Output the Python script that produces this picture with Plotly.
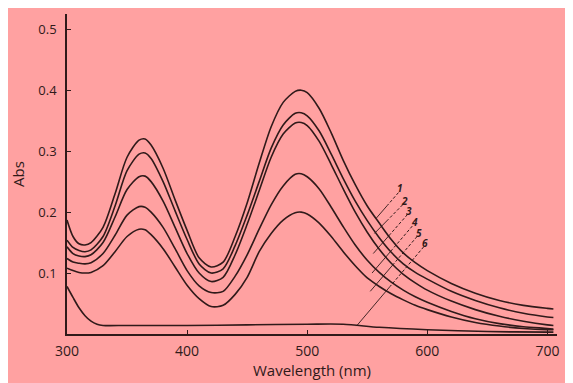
import plotly.graph_objects as go

# ---- data ----
wl = [300, 305, 310, 315, 320, 330, 340, 350, 360, 365, 370, 380, 390, 400, 410, 420, 430, 440,
      450, 460, 470, 480, 490, 495, 500, 510, 520, 530, 540, 550, 560, 570, 580, 590, 600,
      620, 640, 660, 680, 700, 705]

abs1 = [0.187, 0.160, 0.148, 0.146, 0.150, 0.175, 0.230, 0.290, 0.318, 0.320, 0.310, 0.272, 0.220,
        0.170, 0.125, 0.110, 0.118, 0.160, 0.215, 0.280, 0.340, 0.380, 0.398, 0.400, 0.396, 0.370,
        0.330, 0.285, 0.245, 0.210, 0.182, 0.155, 0.133, 0.117, 0.104, 0.083, 0.067, 0.055, 0.047,
        0.042, 0.041]
abs2 = [0.154, 0.142, 0.137, 0.135, 0.138, 0.160, 0.210, 0.268, 0.295, 0.297, 0.288, 0.250, 0.202,
        0.155, 0.115, 0.100, 0.107, 0.145, 0.195, 0.250, 0.305, 0.343, 0.362, 0.363, 0.358, 0.333,
        0.295, 0.255, 0.218, 0.186, 0.158, 0.134, 0.115, 0.101, 0.090, 0.070, 0.055, 0.043, 0.034,
        0.028, 0.027]
abs3 = [0.143, 0.132, 0.128, 0.127, 0.130, 0.150, 0.192, 0.237, 0.258, 0.259, 0.250, 0.218, 0.175,
        0.132, 0.100, 0.086, 0.093, 0.130, 0.180, 0.235, 0.290, 0.328, 0.346, 0.347, 0.342, 0.316,
        0.278, 0.238, 0.200, 0.167, 0.139, 0.116, 0.098, 0.084, 0.072, 0.054, 0.040, 0.029, 0.021,
        0.015, 0.014]
abs4 = [0.124, 0.118, 0.116, 0.115, 0.117, 0.132, 0.162, 0.195, 0.209, 0.208, 0.200, 0.175, 0.140,
        0.104, 0.079, 0.068, 0.070, 0.095, 0.130, 0.172, 0.212, 0.243, 0.262, 0.263, 0.258, 0.238,
        0.208, 0.176, 0.146, 0.121, 0.101, 0.085, 0.072, 0.061, 0.052, 0.037, 0.025, 0.017, 0.012,
        0.009, 0.008]
abs5 = [0.108, 0.104, 0.101, 0.100, 0.101, 0.112, 0.135, 0.160, 0.172, 0.171, 0.163, 0.140, 0.110,
        0.080, 0.058, 0.045, 0.047, 0.065, 0.093, 0.135, 0.165, 0.187, 0.199, 0.200, 0.197, 0.182,
        0.160, 0.135, 0.112, 0.092, 0.078, 0.066, 0.056, 0.047, 0.040, 0.028, 0.019, 0.013, 0.009,
        0.007, 0.007]

wl6 = [300, 305, 310, 315, 320, 325, 330, 350, 400, 450, 500, 530, 560, 600, 650, 700, 705]
abs6 = [0.078, 0.060, 0.043, 0.030, 0.021, 0.016, 0.014, 0.014, 0.014, 0.015, 0.016, 0.016, 0.011,
        0.007, 0.004, 0.003, 0.003]

series_x = [wl, wl, wl, wl, wl, wl6]
series_y = [abs1, abs2, abs3, abs4, abs5, abs6]

curve_labels = ["1", "2", "3", "4", "5", "6"]
label_x = [577.5, 581.0, 585.0, 589.0, 593.0, 598.5]
label_y = [0.240, 0.219, 0.203, 0.184, 0.167, 0.150]
leader_top_x = [576.0, 579.5, 583.5, 587.5, 591.5, 597.0]
leader_top_y = [0.232, 0.212, 0.196, 0.177, 0.160, 0.143]
leader_end_x = [557.5, 556.0, 555.0, 554.0, 552.5, 541.0]
leader_end_y = [0.190, 0.165, 0.132, 0.100, 0.070, 0.013]

x_ticks = [300, 400, 500, 600, 700]
y_ticks = [0.1, 0.2, 0.3, 0.4, 0.5]

# ---- style ----
PINK = "rgb(255,161,161)"
INK = "rgb(48,26,26)"
FONT = "Open Sans, DejaVu Sans, sans-serif"

fig = go.Figure()

for xs, ys in zip(series_x, series_y):
    fig.add_trace(go.Scatter(x=xs, y=ys, mode="lines",
                             line=dict(color=INK, width=1.6, shape="spline", smoothing=0.8),
                             hoverinfo="skip", showlegend=False, cliponaxis=False))

for i in range(len(curve_labels)):
    mx = leader_top_x[i] + 0.5 * (leader_end_x[i] - leader_top_x[i])
    my = leader_top_y[i] + 0.5 * (leader_end_y[i] - leader_top_y[i])
    fig.add_trace(go.Scatter(x=[leader_top_x[i], mx], y=[leader_top_y[i], my], mode="lines",
                             line=dict(color=INK, width=1.0, dash="3px,2px"),
                             hoverinfo="skip", showlegend=False))
    fig.add_trace(go.Scatter(x=[mx, leader_end_x[i]], y=[my, leader_end_y[i]], mode="lines",
                             line=dict(color=INK, width=0.9),
                             hoverinfo="skip", showlegend=False))
    fig.add_annotation(x=label_x[i], y=label_y[i], text="<b><i>%s</i></b>" % curve_labels[i],
                       showarrow=False, font=dict(size=10, color=INK, family=FONT),
                       height=9, borderpad=0, xanchor="center", yanchor="middle")

fig.update_layout(
    width=565, height=375,
    margin=dict(l=59, r=16, t=6, b=49, pad=0, autoexpand=False),
    paper_bgcolor=PINK, plot_bgcolor=PINK,
    font=dict(family=FONT, color=INK),
    xaxis=dict(range=[300, 708], tickvals=x_ticks, ticktext=[str(v) for v in x_ticks],
               showline=True, linecolor=INK, linewidth=1.6, showgrid=False, zeroline=False,
               ticks="inside", ticklen=4, tickwidth=1.4, tickcolor=INK, automargin=False,
               tickfont=dict(size=14, color=INK), ticklabelstandoff=3,
               title=dict(text="Wavelength (nm)", font=dict(size=15, color=INK), standoff=4)),
    yaxis=dict(range=[0, 0.525], tickvals=y_ticks, ticktext=["0.1", "0.2", "0.3", "0.4", "0.5"],
               showline=True, linecolor=INK, linewidth=1.6, showgrid=False, zeroline=False,
               ticks="inside", ticklen=4, tickwidth=1.4, tickcolor=INK, automargin=False,
               tickfont=dict(size=13, color=INK), ticklabelstandoff=6,
               title=dict(text="Abs", font=dict(size=15, color=INK), standoff=12)),
)

fig.write_html("out.html")
